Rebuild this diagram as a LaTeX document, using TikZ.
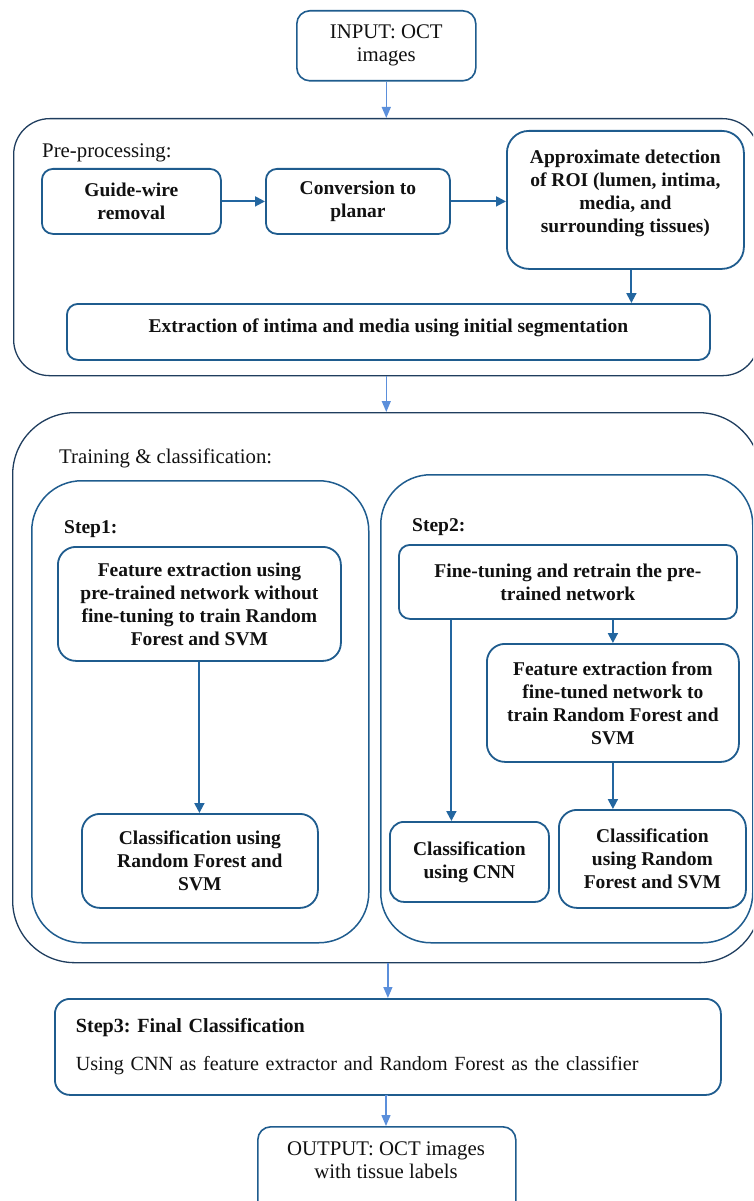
\documentclass[tikz,border=0pt]{standalone}
\usepackage{fontspec}
\setmainfont{Liberation Serif}
\usetikzlibrary{arrows.meta,positioning}
\definecolor{frameline}{HTML}{1F3D5E}
\definecolor{boxline}{HTML}{1F5C8E}
\definecolor{flow}{HTML}{2366A0}
\definecolor{stage}{HTML}{5B8FDB}
\definecolor{ink}{HTML}{111111}
\newcommand{\boxfont}{\fontsize{19.5}{23}\selectfont}
\newcommand{\plainfont}{\fontsize{20.8}{23}\selectfont}
\newcommand{\stepfont}{\fontsize{20.1}{23}\selectfont}
\frenchspacing
\tikzset{
  every node/.style={font=\plainfont,text=ink},
  frame/.style={draw=frameline,line width=1.3pt,anchor=north west,inner sep=0pt},
  box/.style={draw=boxline,line width=1.8pt,rounded corners=11pt,fill=white,align=center,anchor=north west,inner sep=3pt,font=\boxfont\bfseries},
  iobox/.style={draw=boxline,line width=1.6pt,rounded corners=13pt,fill=white,align=center,anchor=north west,inner sep=0pt},
  plain/.style={align=center,inner sep=1pt},
  title/.style={anchor=west,inner sep=0pt},
  steptitle/.style={title,font=\boxfont\bfseries},
  flowarr/.style={-{Triangle[length=10pt,width=10pt]},line width=1.9pt,draw=flow},
  stagearr/.style={-{Triangle[length=11pt,width=9pt]},line width=1.3pt,draw=stage},
}
\begin{document}
\begin{tikzpicture}[x=1pt,y=-1pt]
\useasboundingbox (0,0) rectangle (753,1201);
\clip (0,0) rectangle (753,1201);

% input
\node[iobox,minimum width=179pt,minimum height=70pt] (input) at (296,10) {INPUT: OCT\\images};

% pre-processing
\node[frame,rounded corners=36pt,minimum width=745pt,minimum height=257pt] (pre) at (13,118) {};
\node[title] (pretitle) at (42,153) {Pre-processing:};
\node[box,minimum width=179pt,minimum height=65pt] (guide) at (41,168) {Guide-wire\\removal};
\node[box,minimum width=184pt,minimum height=65pt] (conv) at (265,168) {Conversion to\\planar};
\node[box,rounded corners=22pt,minimum width=237pt,minimum height=138pt] (approx) at (506,130) {Approximate detection\\of ROI (lumen, intima,\\media, and\\surrounding tissues)\\[-5pt]};
\node[box,minimum width=643pt,minimum height=56pt] (extract) at (66,303) {Extraction of intima and media using initial segmentation\\[-11pt]};

% training & classification
\node[frame,rounded corners=62pt,minimum width=748pt,minimum height=550pt] (train) at (12,412) {};
\node[title] (traintitle) at (59,458) {Training \& classification:};
\node[frame,draw=boxline,line width=1.5pt,rounded corners=50pt,minimum width=337pt,minimum height=462pt] (step1) at (31,480) {};
\node[frame,draw=boxline,line width=1.5pt,rounded corners=50pt,minimum width=372pt,minimum height=468pt] (step2) at (380,474) {};
\node[steptitle] (s1title) at (64,529) {Step1:};
\node[steptitle] (s2title) at (412,527) {Step2:};
\node[box,rounded corners=18pt,minimum width=283pt,minimum height=114pt] (feat1) at (57,546) {Feature extraction using\\pre-trained network without\\fine-tuning to train Random\\Forest and SVM};
\node[box,rounded corners=18pt,minimum width=236pt,minimum height=94pt] (cls1) at (81,813) {Classification using\\Random Forest and\\SVM};
\node[box,minimum width=338pt,minimum height=74pt] (fine) at (398,544) {Fine-tuning and retrain the pre-\\trained network};
\node[box,rounded corners=18pt,minimum width=252pt,minimum height=118pt] (feat2) at (486,643) {Feature extraction from\\fine-tuned network to\\train Random Forest and\\SVM};
\node[box,rounded corners=14pt,minimum width=159pt,minimum height=80pt] (cnn) at (389,821) {Classification\\using CNN};
\node[box,rounded corners=18pt,minimum width=187pt,minimum height=98pt] (cls2) at (558,809) {Classification\\using Random\\Forest and SVM};
\coordinate (cnnin) at ([xshift=-18pt]cnn.north);

% step 3 and output
\node[box,font=\stepfont,align=left,text width=624pt,inner xsep=21pt,minimum height=96pt,rounded corners=15pt] (step3) at (54,998) {{\bfseries Step3: Final Classification}\\[15pt]Using CNN as feature extractor and Random Forest as the classifier\\[-13pt]};
\node[iobox,minimum width=258pt,minimum height=100pt] (output) at (257,1126) {};
\node[plain] (outputtxt) at (386,1160) {OUTPUT: OCT images\\with tissue labels};

% connectors
\draw[stagearr] (input.south) -- (input.south |- pre.north);
\draw[flowarr] (guide) -- (conv);
\draw[flowarr] (conv.east) -- (conv.east -| approx.west);
\draw[flowarr] ([xshift=6pt]approx.south) -- ([xshift=6pt]approx.south |- extract.north);
\draw[stagearr] (input.south |- pre.south) -- (input.south |- train.north);
\draw[flowarr] (feat1.south) -- (feat1.south |- cls1.north);
\draw[flowarr] (feat2.north |- fine.south) -- (feat2.north);
\draw[flowarr] (cnnin |- fine.south) -- (cnnin);
\draw[flowarr] (feat2.south) -- (feat2.south |- cls2.north);
\draw[stagearr] (step3.north |- train.south) -- (step3.north);
\draw[stagearr] (step3.south) -- (step3.south -| outputtxt) -- (outputtxt |- output.north);
\end{tikzpicture}
\end{document}
